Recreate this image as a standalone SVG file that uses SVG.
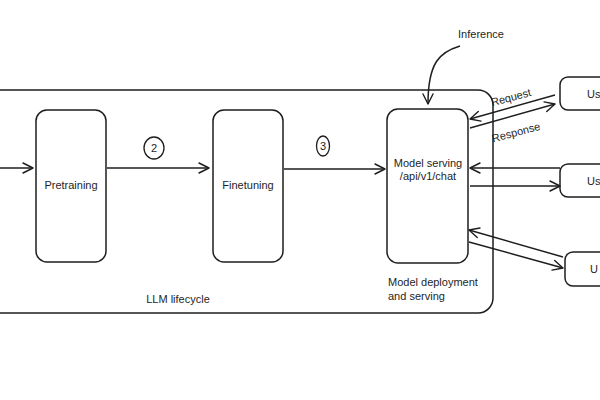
<svg xmlns="http://www.w3.org/2000/svg" width="600" height="400" viewBox="0 0 600 400">
<defs>
<marker id="ah" viewBox="0 0 12 12" refX="11" refY="6" markerWidth="12" markerHeight="12" markerUnits="userSpaceOnUse" orient="auto">
<path d="M1 1 L11 6 L1 11" fill="none" stroke="#1e1e1e" stroke-width="1.4" stroke-linecap="round" stroke-linejoin="round"/>
</marker>
<style>
.box{fill:#fff;stroke:#1e1e1e;stroke-width:1.5}
.cont{fill:none;stroke:#1e1e1e;stroke-width:1.5}
.ln{fill:none;stroke:#1e1e1e;stroke-width:1.5;marker-end:url(#ah)}
text{font-family:"Liberation Sans",Arial,sans-serif;font-size:11px;fill:#1e1e1e}
.c{text-anchor:middle}
</style>
</defs>
<rect width="600" height="400" fill="#fff"/>
<g id="container">
<rect class="cont" x="-20" y="90" width="513" height="223" rx="15"/>
<text class="c" x="178" y="303">LLM lifecycle</text>
<text x="388" y="286">Model deployment</text>
<text x="388" y="300">and serving</text>
</g>
<g id="pretraining">
<rect class="box" x="36" y="110" width="70" height="152" rx="11"/>
<text class="c" x="71" y="189">Pretraining</text>
</g>
<g id="finetuning">
<rect class="box" x="213" y="110" width="70" height="152" rx="11"/>
<text class="c" x="248" y="189">Finetuning</text>
</g>
<g id="model-serving">
<rect class="box" x="387" y="109" width="81" height="154" rx="11"/>
<text class="c" x="428" y="167">Model serving</text>
<text class="c" x="428" y="180">/api/v1/chat</text>
</g>
<g id="user1">
<rect class="box" x="560" y="77" width="60" height="33" rx="8"/>
<text x="587" y="98">Us</text>
</g>
<g id="user2">
<rect class="box" x="560" y="164" width="60" height="33" rx="8"/>
<text x="587" y="185">Us</text>
</g>
<g id="user3">
<rect class="box" x="565" y="252" width="60" height="34" rx="8"/>
<text x="590" y="273">U</text>
</g>
<g id="step2">
<ellipse cx="154" cy="148" rx="10" ry="11" fill="none" stroke="#1e1e1e" stroke-width="1.3"/>
<text class="c" x="154" y="152">2</text>
</g>
<g id="step3">
<ellipse cx="323" cy="146" rx="6.5" ry="10" fill="none" stroke="#1e1e1e" stroke-width="1.3"/>
<text class="c" x="323" y="150">3</text>
</g>
<g id="inference-label">
<text class="c" x="481" y="38">Inference</text>
</g>
<g id="connectors">
<path class="ln" d="M-5 168 H33"/>
<path class="ln" d="M107 168 H209"/>
<path class="ln" d="M284 169 H385"/>
<path class="ln" d="M460 46 C440 52 428 62 428 104"/>
<path class="ln" d="M555 95 L470 119"/>
<path class="ln" d="M470 128 L555 104"/>
<path class="ln" d="M560 168 L470 168"/>
<path class="ln" d="M470 186 L560 186"/>
<path class="ln" d="M563 257 L469 230"/>
<path class="ln" d="M469 242 L563 268"/>
<text transform="translate(512 101) rotate(-15)" class="c">Request</text>
<text transform="translate(517 136) rotate(-15)" class="c">Response</text>
</g>
</svg>
